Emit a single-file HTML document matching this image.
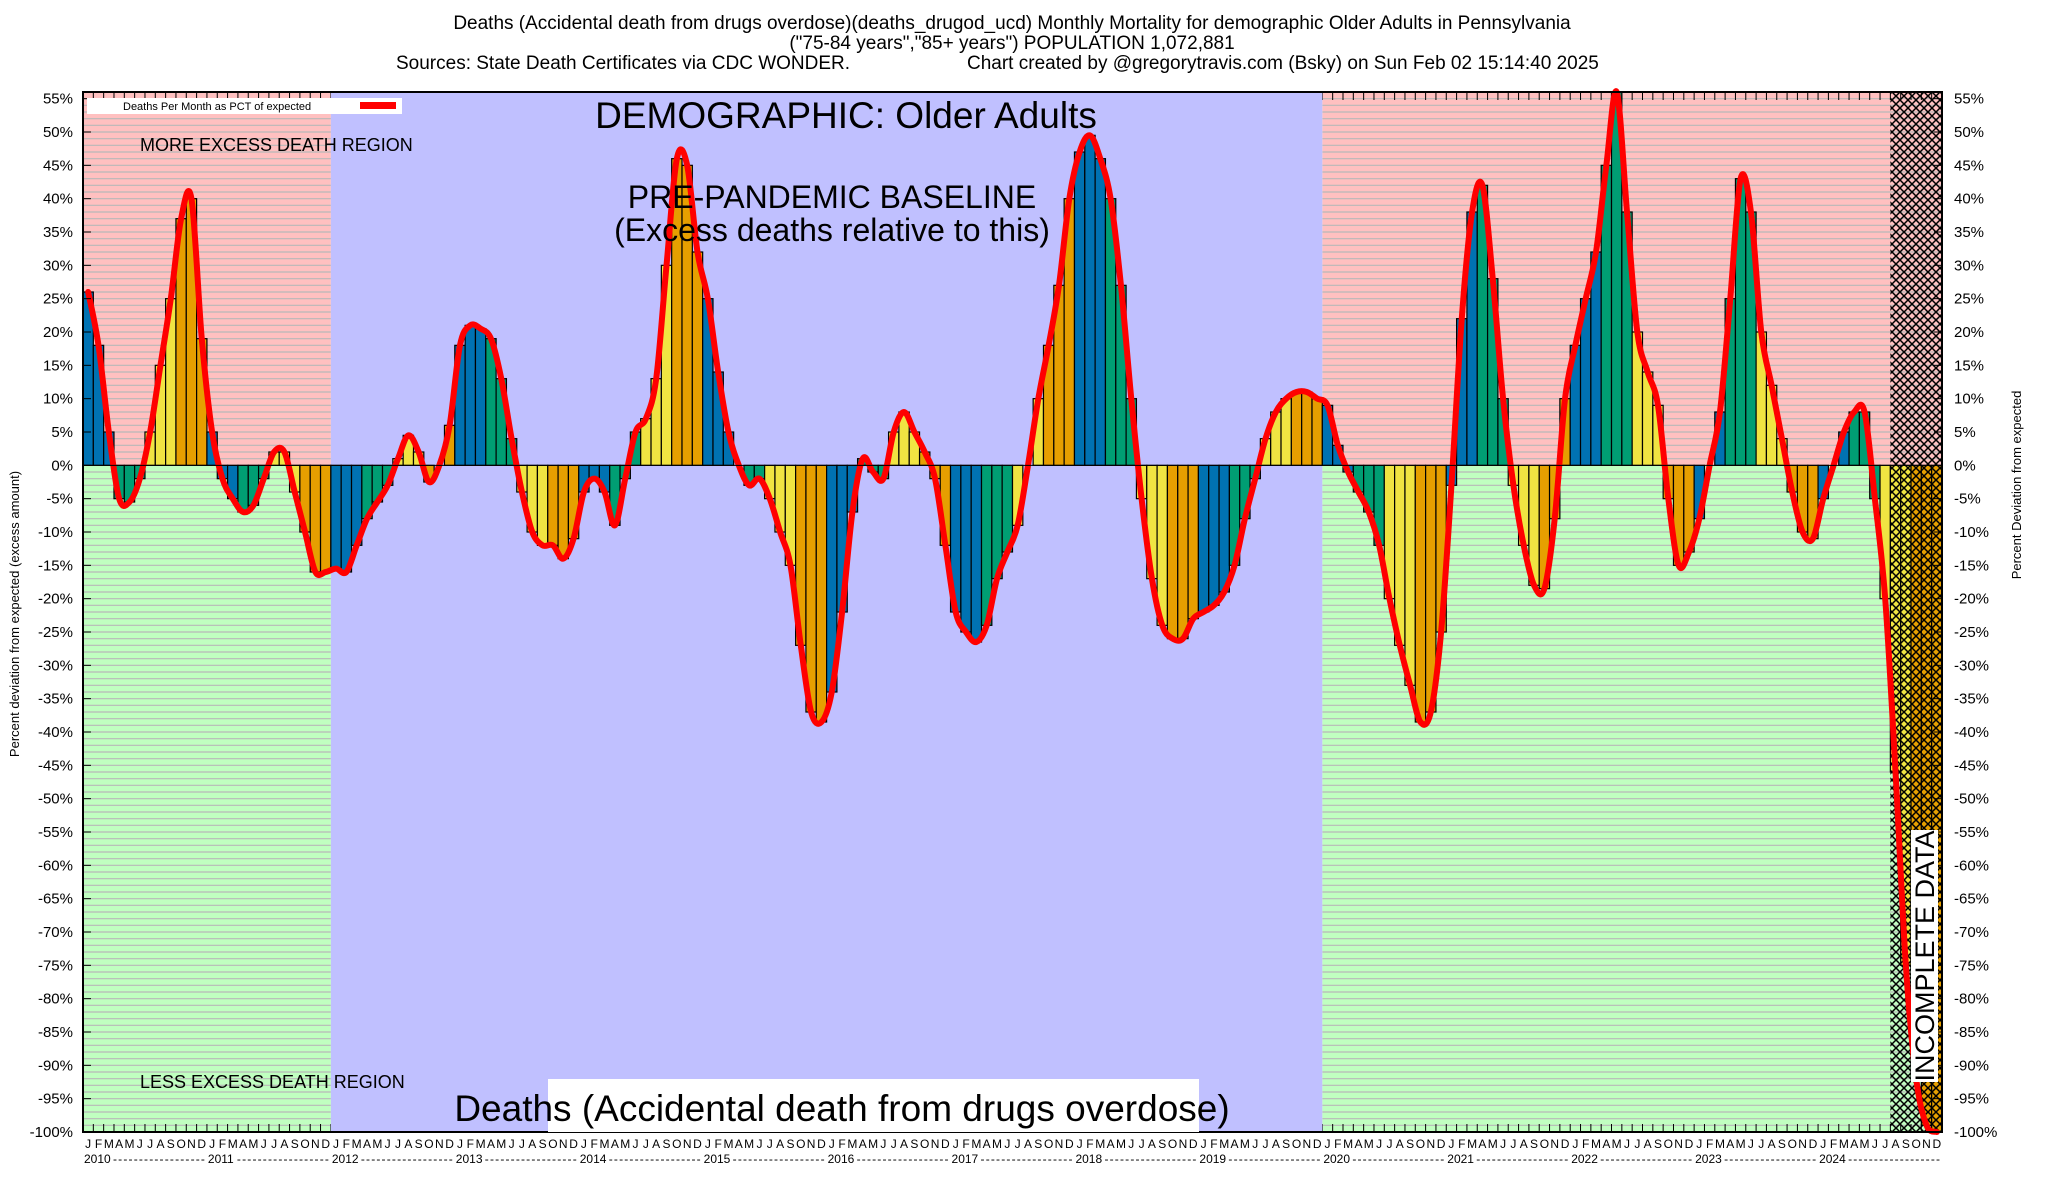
<!DOCTYPE html>
<html><head><meta charset="utf-8"><style>
body{margin:0;background:#fff}
svg{display:block;font-family:"Liberation Sans",Arial,sans-serif}
</style></head><body>
<svg id="chart" width="2048" height="1200" viewBox="0 0 2048 1200" xmlns="http://www.w3.org/2000/svg">
<defs>
<pattern id="hatch" width="8" height="8" patternUnits="userSpaceOnUse">
<path d="M0,0L8,8M8,0L0,8" stroke="#000" stroke-width="1.5"/>
</pattern>
</defs>
<g id="bg"></g>
<g id="bars"></g>
<g id="hatchg"></g>
<g id="linegrp"></g>
<g id="axes"></g>
<g id="static">
<text x="1012" y="29" text-anchor="middle" font-size="19">Deaths (Accidental death from drugs overdose)(deaths_drugod_ucd) Monthly Mortality for demographic Older Adults in Pennsylvania</text>
<text x="1012" y="49" text-anchor="middle" font-size="19">("75-84 years","85+ years") POPULATION 1,072,881</text>
<text x="396" y="69" font-size="19">Sources: State Death Certificates via CDC WONDER.</text>
<text x="967" y="69" font-size="19">Chart created by @gregorytravis.com (Bsky) on Sun Feb 02 15:14:40 2025</text>
<rect x="87" y="98" width="315" height="16" fill="#fff"/>
<text x="123" y="110" font-size="11">Deaths Per Month as PCT of expected</text>
<rect x="360" y="102" width="36" height="7" fill="#f00"/>
<text x="846" y="128" text-anchor="middle" font-size="37">DEMOGRAPHIC: Older Adults</text>
<text x="832" y="208" text-anchor="middle" font-size="32">PRE-PANDEMIC BASELINE</text>
<text x="832" y="241" text-anchor="middle" font-size="32">(Excess deaths relative to this)</text>
<text x="140" y="151" font-size="18">MORE EXCESS DEATH REGION</text>
<text x="140" y="1088" font-size="18">LESS EXCESS DEATH REGION</text>
<rect x="548" y="1079" width="651" height="53" fill="#fff"/>
<text x="842" y="1121" text-anchor="middle" font-size="37">Deaths (Accidental death from drugs overdose)</text>
<rect x="1911" y="830" width="27" height="252" fill="#fff"/>
<text transform="translate(1934,956) rotate(-90)" text-anchor="middle" font-size="27">INCOMPLETE DATA</text>
<text transform="translate(19,614) rotate(-90)" text-anchor="middle" font-size="13">Percent deviation from expected (excess amount)</text>
<text transform="translate(2021,485) rotate(-90)" text-anchor="middle" font-size="13">Percent Deviation from expected</text>
</g>
</svg>
<script>
const years = ["2010","2011","2012","2013","2014","2015","2016","2017","2018","2019","2020","2021","2022","2023","2024"];
const monthLetters = ["J","F","M","A","M","J","J","A","S","O","N","D"];
const values2010 = [26,18,5,-5,-5.5,-2,5,15,25,37,40,19];
const values2011 = [5,-2,-5,-7,-6,-2,2,2,-4,-10,-16,-16];
const values2012 = [-15.5,-16,-12,-8,-5.5,-3,1,4.5,2,-2.5,0,6];
const values2013 = [18,21,20.5,19,13,4,-4,-10,-12,-12,-14,-11];
const values2014 = [-4,-2,-4,-9,-2,5,7,13,30,46,45,32];
const values2015 = [25,14,5,0,-3,-2,-5,-10,-15,-27,-37,-38.5];
const values2016 = [-34,-22,-7,1,-1,-2,5,8,5,2,-2,-12];
const values2017 = [-22,-25,-26.5,-24,-17,-13,-9,0,10,18,27,40];
const values2018 = [47,49.5,46,40,27,10,-5,-17,-24,-26,-26,-23];
const values2019 = [-22,-21,-19,-15,-8,-2,4,8,10,11,11,10];
const values2020 = [9,3,-1,-4,-7,-12,-20,-27,-33,-38.5,-37,-25];
const values2021 = [-3,22,38,42,28,10,-3,-12,-18,-18.5,-8,10];
const values2022 = [18,25,32,45,56,38,20,14,9,-5,-15,-13];
const values2023 = [-8,0,8,25,43,38,20,12,4,-4,-10,-11];
const values2024 = [-5,0,5,8,8,-5,-20,-46,-75,-92,-99,-100];
const yTicks = [55,50,45,40,35,30,25,20,15,10,5,0,-5,-10,-15,-20,-25,-30,-35,-40,-45,-50,-55,-60,-65,-70,-75,-80,-85,-90,-95,-100];

const values = [].concat(values2010,values2011,values2012,values2013,values2014,values2015,values2016,values2017,values2018,values2019,values2020,values2021,values2022,values2023,values2024);
const NS="http://www.w3.org/2000/svg";
const L=83,R=1942,T=92,B=1132;
const N=values.length;
const mw=(R-L)/N;
function x(i){return L+i*mw;}
function y(v){return B-(v+100)*(B-T)/156;}
function mk(tag,attrs,parent){const e=document.createElementNS(NS,tag);for(const k in attrs)e.setAttribute(k,attrs[k]);parent.appendChild(e);return e;}
const bg=document.getElementById('bg'),bars=document.getElementById('bars'),hg=document.getElementById('hatchg'),lg=document.getElementById('linegrp'),ax=document.getElementById('axes');

function region(i0,i1,name){
  let r=mk('rect',{x:x(i0),y:T,width:x(i1)-x(i0),height:y(0)-T,fill:'#ffc0c0'},bg);
  
  
  r=mk('rect',{x:x(i0),y:y(0),width:x(i1)-x(i0),height:B-y(0),fill:'#c0ffc0'},bg);
  
  
  for(let v=-99;v<=55;v++){
    if(v===0)continue;
    const g=mk('line',{x1:x(i0),x2:x(i1),y1:y(v),y2:y(v),stroke:'#b8b8b8','stroke-width':1.2},bg);
    
    
  }
  for(let i=i0;i<=i1;i++){
    mk('line',{x1:x(i),x2:x(i),y1:T,y2:T+8,stroke:'#000','stroke-width':1},bg);
    mk('line',{x1:x(i),x2:x(i),y1:B,y2:B-8,stroke:'#000','stroke-width':1},bg);
  }
}
region(0,24,'pre-2012');
region(120,180,'post-2020');
let bl=mk('rect',{x:x(24),y:T,width:x(120)-x(24),height:B-T,fill:'#c0c0ff'},bg);



const qc=['#0072b2','#009e73','#f0e442','#e69f00'];
values.forEach((v,i)=>{
  const y0=y(0),yv=y(v);
  const b=mk('rect',{x:x(i),y:Math.min(y0,yv),width:mw,height:Math.abs(yv-y0),fill:qc[Math.floor((i%12)/3)],stroke:'#000','stroke-width':1.2},bars);
  
  
});

const hs=175;
let hr=mk('rect',{x:x(hs),y:T,width:R-x(hs),height:B-T,fill:'url(#hatch)'},hg);



const pts=values.map((v,i)=>[x(i)+mw/2,y(v)]);
let d='M'+pts[0][0]+','+pts[0][1];
for(let i=0;i<pts.length-1;i++){
  const p0=pts[Math.max(0,i-1)],p1=pts[i],p2=pts[i+1],p3=pts[Math.min(pts.length-1,i+2)];
  const c1=[p1[0]+(p2[0]-p0[0])/6,p1[1]+(p2[1]-p0[1])/6];
  const c2=[p2[0]-(p3[0]-p1[0])/6,p2[1]-(p3[1]-p1[1])/6];
  d+=' C'+c1[0]+','+c1[1]+' '+c2[0]+','+c2[1]+' '+p2[0]+','+p2[1];
}
let ln=mk('path',{d:d,fill:'none',stroke:'#ff0000','stroke-width':6,'stroke-linejoin':'round','stroke-linecap':'round'},lg);



let fr=mk('rect',{x:L,y:T,width:R-L,height:B-T,fill:'none',stroke:'#000','stroke-width':2},ax);


mk('line',{x1:L,x2:R,y1:y(0),y2:y(0),stroke:'#000','stroke-width':1},ax);

yTicks.forEach(v=>{
  mk('line',{x1:L,x2:L+8,y1:y(v),y2:y(v),stroke:'#000','stroke-width':1},ax);
  mk('line',{x1:R,x2:R-8,y1:y(v),y2:y(v),stroke:'#000','stroke-width':1},ax);
  let t=mk('text',{x:L-10,y:y(v)+5,'text-anchor':'end','font-size':15},ax);t.textContent=v+'%';
  
  
  t=mk('text',{x:R+12,y:y(v)+5,'text-anchor':'start','font-size':15},ax);t.textContent=v+'%';
  
  
});

values.forEach((v,i)=>{
  const t=mk('text',{x:x(i)+mw/2,y:1148,'text-anchor':'middle','font-size':12},ax);
  t.textContent=monthLetters[i%12];
  
  
});
years.forEach((yr,k)=>{
  const t=mk('text',{x:x(k*12)+1,y:1163,'font-size':12},ax);
  t.textContent=yr;
  
  
  const t2=mk('text',{x:x(k*12)+30,y:1163,'font-size':12,textLength:x(12)-x(0)-32,lengthAdjust:'spacing'},ax);
  t2.textContent='- - - - - - - - - - - - - - - - - -';
});
</script>
</body></html>
